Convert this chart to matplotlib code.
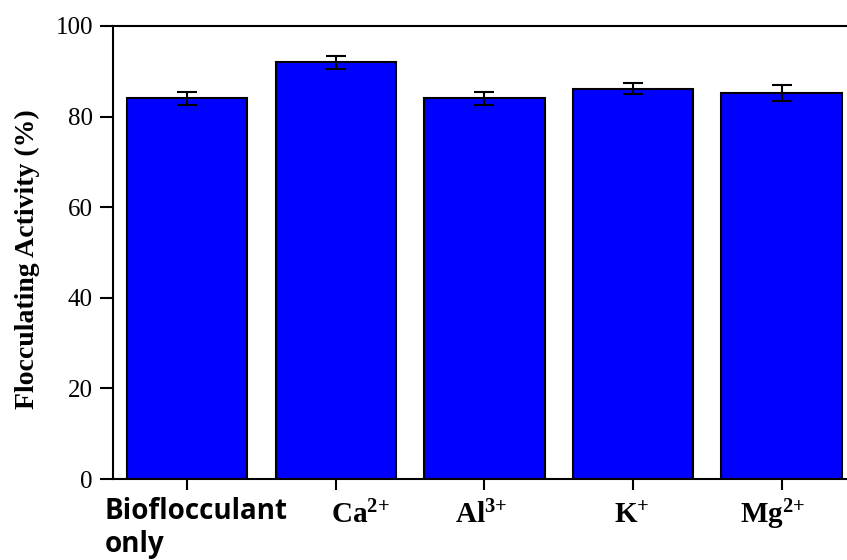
import matplotlib.pyplot as plt
import matplotlib.transforms as mtransforms

plt.rcParams['mathtext.fontset'] = 'custom'
plt.rcParams['mathtext.rm'] = 'Liberation Serif'
plt.rcParams['mathtext.bf'] = 'Liberation Serif:bold'

# flocculating activity with each metal ion (%)
labels = ['Bioflocculant\nonly', r'$\mathbf{Ca^{2{+}}}$', r'$\mathbf{Al^{3{+}}}$',
          r'$\mathbf{K^{+}}$', r'$\mathbf{Mg^{2{+}}}$']
activity = [84.0, 92.0, 84.0, 86.2, 85.2]
errors = [1.5, 1.4, 1.5, 1.2, 1.7]

W, H = 847, 560
fig = plt.figure(figsize=(W / 100, H / 100), dpi=100)
ax = fig.add_axes([113 / W, 1 - 479 / H, 1 - 113 / W, (479 - 26) / H])

x = list(range(len(activity)))
ax.bar(x, activity, width=0.81, color='#0000ff', edgecolor='black', linewidth=1.5,
       yerr=errors, capsize=7.5, error_kw=dict(elinewidth=1.5, capthick=1.5, ecolor='black'))

ax.set_xlim(-0.5, 4.44)
ax.set_ylim(0, 100)
ax.set_yticks([0, 20, 40, 60, 80, 100])
ax.spines['right'].set_visible(False)
for s in ['left', 'top', 'bottom']:
    ax.spines[s].set_linewidth(1.5)

ax.tick_params(axis='x', direction='out', length=8, width=1.5)
ax.tick_params(axis='y', direction='out', length=9.5, width=1.5, labelsize=18, pad=5)
for t in ax.get_yticklabels():
    t.set_fontfamily('Liberation Serif')

# category labels drawn by hand so they can sit off the tick centres
ax.set_xticks(x)
ax.set_xticklabels([])
trans = mtransforms.blended_transform_factory(ax.transData, fig.transFigure)
ax.text(-0.555, 1 - 497 / H, labels[0], transform=trans, ha='left', va='top',
        fontsize=20, fontweight='bold', fontfamily='Open Sans', linespacing=1.2)
label_x = [1.167, 1.98, 2.99, 3.94]
for lx, lab in zip(label_x, labels[1:]):
    ax.text(lx, 1 - 523 / H, lab, transform=trans, ha='center', va='baseline', fontsize=21)

fig.text(27 / W, 1 - 259 / H, 'Flocculating Activity (%)', rotation=90,
         ha='center', va='center', fontsize=20, fontweight='bold',
         fontfamily='Liberation Serif')

fig.savefig('out.png', dpi=100)
